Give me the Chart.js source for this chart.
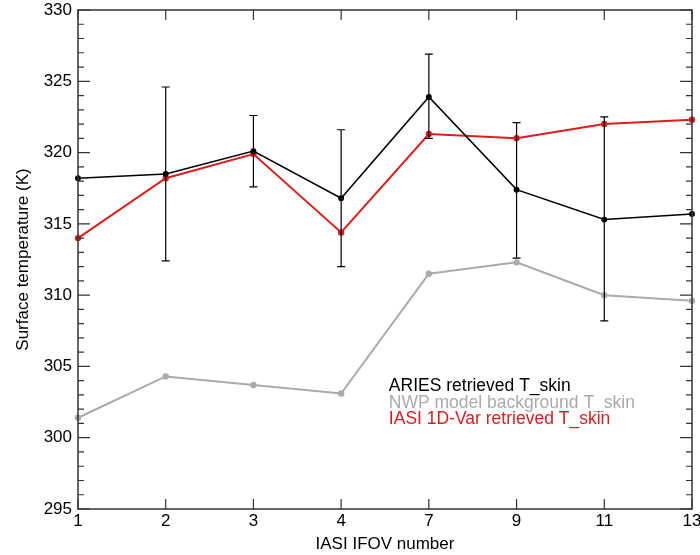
<!DOCTYPE html>
<html>
<head>
<meta charset="utf-8">
<script src="https://cdn.jsdelivr.net/npm/chart.js@4"></script>
<style>
  body { margin: 0; background: #fff; }
  #wrap { width: 700px; height: 555px; }
</style>
</head>
<body>
<div id="wrap"><canvas id="c"></canvas></div>
<script>
const ifov = ['1', '2', '3', '4', '7', '9', '11', '13'];
const aries = [318.2, 318.5, 320.1, 316.8, 323.9, 317.4, 315.3, 315.7];
const ariesLow = [null, 312.4, 317.6, 312.0, 321.0, 312.6, 308.2, null];
const ariesHigh = [null, 324.6, 322.6, 321.6, 326.9, 322.1, 322.5, null];
const nwp = [301.4, 304.3, 303.7, 303.1, 311.5, 312.3, 310.0, 309.6];
const iasi = [314.0, 318.2, 319.9, 314.4, 321.3, 321.0, 322.0, 322.3];
const yTicks = [295, 300, 305, 310, 315, 320, 325, 330];

const FONT = '"Liberation Sans", Arial, Helvetica, sans-serif';

// error bars, inward ticks, box frame and the in-plot legend
const framePlugin = {
    id: 'frame',
    afterDatasetsDraw(chart) {
        const ctx = chart.ctx;
        const x = chart.scales.x, y = chart.scales.y;
        const a = chart.chartArea;
        ctx.save();

        // error bars
        ctx.strokeStyle = '#000';
        ctx.lineWidth = 1.2;
        ariesLow.forEach((lo, i) => {
            if (lo === null) return;
            const px = x.getPixelForValue(i);
            const y1 = y.getPixelForValue(lo), y2 = y.getPixelForValue(ariesHigh[i]);
            ctx.beginPath();
            ctx.moveTo(px, y1); ctx.lineTo(px, y2);
            ctx.moveTo(px - 4, y1); ctx.lineTo(px + 4, y1);
            ctx.moveTo(px - 4, y2); ctx.lineTo(px + 4, y2);
            ctx.stroke();
        });

        // box
        ctx.strokeStyle = '#333';
        ctx.lineWidth = 1.5;
        ctx.strokeRect(a.left, a.top, a.right - a.left, a.bottom - a.top);

        // y ticks (major + minor, both sides)
        ctx.lineWidth = 1.2;
        ctx.beginPath();
        for (let v = 295; v <= 330; v++) {
            const py = y.getPixelForValue(v);
            const len = v % 5 === 0 ? 12 : 6;
            ctx.moveTo(a.left, py); ctx.lineTo(a.left + len, py);
            ctx.moveTo(a.right, py); ctx.lineTo(a.right - len, py);
        }
        // x ticks top and bottom
        ifov.forEach((_, i) => {
            const px = x.getPixelForValue(i);
            ctx.moveTo(px, a.bottom); ctx.lineTo(px, a.bottom - 10);
            ctx.moveTo(px, a.top); ctx.lineTo(px, a.top + 10);
        });
        ctx.stroke();

        // legend as plain coloured text inside the plot
        ctx.font = '17.5px ' + FONT;
        ctx.textBaseline = 'middle';
        ctx.textAlign = 'left';
        const lx = x.getPixelForValue(4) - 40;
        chart.data.datasets.forEach((ds, i) => {
            ctx.fillStyle = ds.borderColor;
            ctx.fillText(ds.label, lx, y.getPixelForValue(303.6) + i * 16.6);
        });
        ctx.restore();
    }
};

new Chart(document.getElementById('c'), {
    type: 'line',
    data: {
        labels: ifov,
        datasets: [{
            label: 'ARIES retrieved T_skin',
            data: aries,
            borderColor: '#000000',
            backgroundColor: '#000000',
            borderWidth: 1.5,
            pointRadius: 2.2,
            pointStyle: 'circle',
        }, {
            label: 'NWP model background T_skin',
            data: nwp,
            borderColor: '#aaaaaa',
            backgroundColor: '#aaaaaa',
            borderWidth: 2,
            pointRadius: 2.2,
            pointStyle: 'circle',
        }, {
            label: 'IASI 1D-Var retrieved T_skin',
            data: iasi,
            borderColor: '#d81e1e',
            backgroundColor: '#d81e1e',
            borderWidth: 2,
            pointRadius: 2.2,
            pointStyle: 'circle',
        }]
    },
    options: {
        responsive: true,
        maintainAspectRatio: false,
        animation: false,
        layout: { padding: { top: 10, right: 8, left: 0, bottom: 0 } },
        scales: {
            x: {
                offset: false,
                grid: { display: false, drawTicks: false },
                border: { display: false },
                ticks: { color: '#000', font: { family: FONT, size: 17 }, padding: 2 },
                title: {
                    display: true,
                    text: 'IASI IFOV number',
                    color: '#000',
                    font: { family: FONT, size: 17 },
                    padding: { top: 0, bottom: 0 }
                },
                afterFit(s) { s.height = 46; s.paddingLeft = 0; s.paddingRight = 0; }
            },
            y: {
                min: 295,
                max: 330,
                afterBuildTicks(s) { s.ticks = yTicks.map(v => ({ value: v })); },
                grid: { display: false, drawTicks: false },
                border: { display: false },
                ticks: { color: '#000', font: { family: FONT, size: 17 }, padding: 6 },
                title: {
                    display: true,
                    text: 'Surface temperature (K)',
                    color: '#000',
                    font: { family: FONT, size: 17 },
                    padding: { top: 13, bottom: 0 }
                },
                afterFit(s) { s.width = 78; s.paddingTop = 0; s.paddingBottom = 0; }
            }
        },
        plugins: {
            legend: { display: false },
            tooltip: { enabled: false }
        }
    },
    plugins: [framePlugin]
});
</script>
</body>
</html>
